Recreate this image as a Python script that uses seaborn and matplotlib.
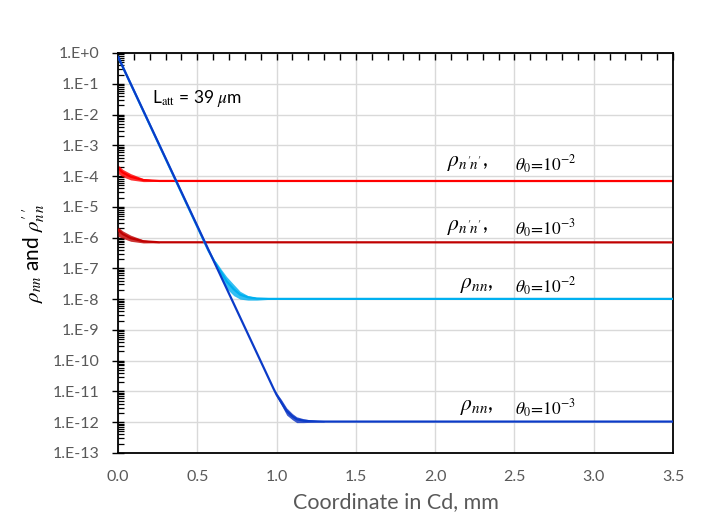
import numpy as np
import pandas as pd
import matplotlib
matplotlib.use("Agg")
import matplotlib.pyplot as plt
import matplotlib.ticker as mticker
import seaborn as sns

# ---------------- data ----------------
# rho_nn, theta0 = 1e-3 (dark blue)
dkb_x = [0.0, 0.98, 1.0, 1.03, 1.064, 1.10, 1.127, 1.17, 1.21, 1.30, 3.5]
dkb_y = [0.76, 1.26e-11, 7.8e-12, 4.4e-12, 2.3e-12, 1.55e-12, 1.25e-12, 1.12e-12, 1.08e-12, 1.05e-12, 1.05e-12]
dkb_band_x = [0.99, 1.0, 1.03, 1.064, 1.10, 1.127, 1.17, 1.21, 1.30]
dkb_band_hi = [1.1e-11, 9.0e-12, 5.5e-12, 2.9e-12, 1.9e-12, 1.5e-12, 1.3e-12, 1.2e-12, 1.08e-12]
dkb_band_lo = [9.0e-12, 6.8e-12, 3.6e-12, 1.7e-12, 1.2e-12, 0.97e-12, 0.97e-12, 0.99e-12, 1.02e-12]

# rho_nn, theta0 = 1e-2 (light blue)
ltb_x = [0.0, 0.57, 0.62, 0.65, 0.685, 0.73, 0.77, 0.82, 0.875, 0.95, 3.5]
ltb_y = [0.76, 3.8e-7, 1.3e-7, 7.5e-8, 3.8e-8, 2.1e-8, 1.4e-8, 1.15e-8, 1.05e-8, 1.02e-8, 1.02e-8]
ltb_band_x = [0.60, 0.62, 0.65, 0.685, 0.73, 0.77, 0.82, 0.875, 0.95]
ltb_band_hi = [2.0e-7, 1.6e-7, 9.5e-8, 5.4e-8, 3.0e-8, 1.8e-8, 1.3e-8, 1.12e-8, 1.05e-8]
ltb_band_lo = [1.8e-7, 1.0e-7, 5.0e-8, 2.2e-8, 1.3e-8, 1.0e-8, 9.3e-9, 9.3e-9, 9.8e-9]

# rho_n'n', theta0 = 1e-2 (red)
red_x = [0.0, 0.03, 0.08, 0.16, 0.26, 3.5]
red_y = [1.8e-4, 1.3e-4, 9.5e-5, 7.4e-5, 6.95e-5, 6.9e-5]
red_band_x = [0.0, 0.03, 0.08, 0.16, 0.26]
red_band_hi = [2.3e-4, 1.65e-4, 1.2e-4, 8.3e-5, 7.2e-5]
red_band_lo = [1.2e-4, 9.5e-5, 7.5e-5, 6.6e-5, 6.7e-5]

# rho_n'n', theta0 = 1e-3 (dark red)
dkr_x = [0.0, 0.03, 0.08, 0.16, 0.26, 3.5]
dkr_y = [1.8e-6, 1.3e-6, 9.6e-7, 7.6e-7, 7.05e-7, 7.0e-7]
dkr_band_x = [0.0, 0.03, 0.08, 0.16, 0.26]
dkr_band_hi = [2.2e-6, 1.65e-6, 1.2e-6, 8.4e-7, 7.3e-7]
dkr_band_lo = [1.1e-6, 9.5e-7, 7.6e-7, 6.7e-7, 6.8e-7]

x_ticks = [0.0, 0.5, 1.0, 1.5, 2.0, 2.5, 3.0, 3.5]
y_exponents = list(range(-13, 1))

# ---------------- style ----------------
sns.set_theme(style="white")
plt.rcParams['font.family'] = ['Lato', 'DejaVu Sans']
plt.rcParams['mathtext.fontset'] = 'stix'

fig = plt.figure(figsize=(7.08, 5.31), dpi=100)
ax = fig.add_axes([118/708, 1-453/531, (673-118)/708, (453-53)/531])

C_DKB = "#0B3BC8"
C_LTB = "#00B0F0"
C_RED = "#FF0000"
C_DKR = "#C00000"

def draw(xs, ys, bx, bhi, blo, color, band_color, z):
    ax.fill_between(bx, blo, bhi, color=band_color, alpha=0.8, lw=0, zorder=z)
    sns.lineplot(x=xs, y=ys, ax=ax, color=color, lw=1.6, zorder=z + 0.5,
                 estimator=None, sort=False)

draw(red_x, red_y, red_band_x, red_band_hi, red_band_lo, C_RED, C_RED, 2)
draw(dkr_x, dkr_y, dkr_band_x, dkr_band_hi, dkr_band_lo, C_DKR, C_DKR, 3)
draw(ltb_x, ltb_y, ltb_band_x, ltb_band_hi, ltb_band_lo, C_LTB, C_LTB, 4)
draw(dkb_x, dkb_y, dkb_band_x, dkb_band_hi, dkb_band_lo, C_DKB, "#0A2FC0", 5)

ax.set_yscale('log')
ax.set_xlim(0, 3.5)
ax.set_ylim(1e-13, 1e0)

ax.xaxis.set_major_locator(mticker.FixedLocator(x_ticks))
ax.xaxis.set_minor_locator(mticker.MultipleLocator(0.1))
ax.xaxis.set_major_formatter(mticker.FormatStrFormatter('%.1f'))
ax.yaxis.set_major_locator(mticker.FixedLocator([10.0**e for e in y_exponents]))
ax.yaxis.set_minor_locator(mticker.LogLocator(base=10, subs=np.arange(2, 10), numticks=40))
ax.yaxis.set_minor_formatter(mticker.NullFormatter())

def yfmt(v, pos):
    e = int(round(np.log10(v)))
    return "1.E+0" if e >= 0 else f"1.E{e}"
ax.yaxis.set_major_formatter(mticker.FuncFormatter(yfmt))

ax.grid(True, which='major', color='#D9D9D9', lw=1.0)
ax.set_axisbelow(True)

for s in ax.spines.values():
    s.set_color('black')
    s.set_linewidth(1.3)

ax.tick_params(axis='x', which='both', bottom=False, top=True, direction='in',
               labelbottom=True, color='black', width=1.0)
ax.tick_params(axis='x', which='major', length=5, pad=12, labelsize=11.5, labelcolor='#595959')
ax.tick_params(axis='x', which='minor', length=5)
ax.tick_params(axis='y', which='major', left=True, right=False, direction='inout', length=9,
               width=1.0, color='black', pad=9, labelsize=11.5, labelcolor='#595959')
ax.tick_params(axis='y', which='minor', left=True, right=False, direction='in', length=4,
               width=0.9, color='black')

ax.set_xlabel("Coordinate in Cd, mm", fontsize=15.5, color='#595959', labelpad=6)
ax.set_ylabel(r"$\rho_{nn}$ and $\rho^{\prime\;\prime}_{n\,n}$", fontsize=15, color='black', labelpad=4)

# annotations
ax.text(0.2116, 0.032, r"L$_{\rm att}$ = 39 $\mu$m", fontsize=12.5, color='black',
        ha='left', va='center', zorder=10)

labels = [
    (2.075, 2.66e-4, r"$\rho_{n'\!n'}$,", r"$\theta_0\!=\!10^{-2}$"),
    (2.075, 2.26e-6, r"$\rho_{n'\!n'}$,", r"$\theta_0\!=\!10^{-3}$"),
    (2.157, 2.88e-8, r"$\rho_{nn}$,", r"$\theta_0\!=\!10^{-2}$"),
    (2.157, 3.2e-12, r"$\rho_{nn}$,", r"$\theta_0\!=\!10^{-3}$"),
]
for xl, yl, t1, t2 in labels:
    ax.text(xl, yl, t1, fontsize=15.5, color='black', ha='left', va='center', zorder=10)
    ax.text(2.504, yl * 0.85, t2, fontsize=12.5, color='black', ha='left', va='center', zorder=10)

fig.savefig("out.png", dpi=100)
